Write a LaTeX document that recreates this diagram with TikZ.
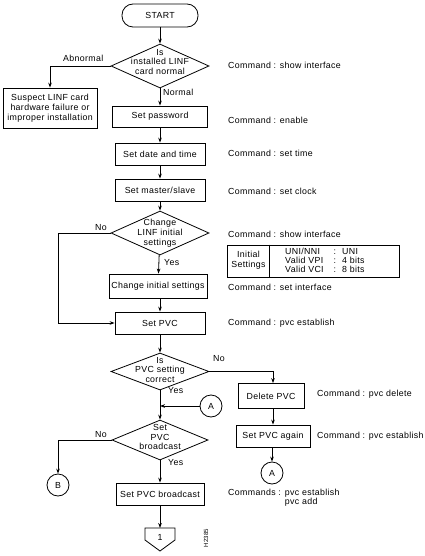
\documentclass[tikz,border=0pt]{standalone}
\usepackage{fontspec}
\setmainfont{Liberation Sans}[LetterSpace=4]
\usetikzlibrary{shapes.geometric,arrows.meta}
\begin{document}
\begin{tikzpicture}[x=1pt,y=-1pt,
  every node/.style={font=\fontsize{8.8}{9.8}\selectfont, inner sep=0pt},
  box/.style={draw, line width=0.8pt, minimum height=22pt, align=center},
  dia/.style={draw, diamond, line width=0.8pt},
  circ/.style={draw, circle, line width=0.8pt, minimum size=22pt},
  cmd/.style={anchor=west},
  lbl/.style={anchor=west},
  arr/.style={line width=0.8pt, -{Stealth[length=5pt,width=3.6pt]}},
  ln/.style={line width=0.8pt}]
\useasboundingbox (0,0) rectangle (424,556);
% start
\node[draw, line width=0.8pt, rounded corners=11pt, minimum width=76pt, minimum height=23pt] (start) at (160,15.5) {START};
% diamond 1
\node[dia, minimum width=98pt, minimum height=44pt] (d1) at (160,66) {};
\node[align=center] (d1t) at (160,62) {Is\\installed LINF\\card normal};
\node[box, minimum width=94pt, minimum height=40pt] (sus) at (50,108) {Suspect LINF card\\hardware failure or\\improper installation};
\node[box, minimum width=95pt, minimum height=21pt] (pw) at (160,116.5) {Set password};
\node[box, minimum width=90pt] (dt) at (160,154) {Set date and time};
\node[box, minimum width=90pt] (ms) at (160,190) {Set master/slave};
\node[dia, minimum width=98pt, minimum height=44pt] (d2) at (160,233) {};
\node[align=center] (d2t) at (160,233) {Change\\LINF initial\\settings};
\node[box, minimum width=98pt, minimum height=24pt] (ci) at (158,286) {Change initial settings};
\node[box, minimum width=90pt] (pvc) at (160,323) {Set PVC};
\node[dia, minimum width=98pt, minimum height=37pt] (d3) at (160,371.5) {};
\node[align=center] (d3t) at (160,370) {Is\\PVC setting\\correct};
\node[dia, minimum width=96pt, minimum height=40pt] (d4) at (160,440) {};
\node[align=center] (d4t) at (160,437) {Set\\PVC\\broadcast};
\node[box, minimum width=88pt] (bc) at (160,494) {Set PVC broadcast};
% off-page connector
\coordinate (o1) at (145,528);
\coordinate (o2) at (175,528);
\coordinate (o3) at (175,540);
\coordinate (o4) at (160,551);
\coordinate (o5) at (145,540);
\draw[ln] (o1) -- (o2) -- (o3) -- (o4) -- (o5) -- cycle;
\node (off) at (160,537) {1};
% right branch
\node[box, minimum width=66pt, minimum height=25pt] (del) at (271,396) {Delete PVC};
\node[box, minimum width=74pt] (again) at (273,436) {Set PVC again};
\node[circ] (A2) at (272,473) {A};
\node[circ] (A1) at (211,406) {A};
\node[circ] (B) at (58,485) {B};
\coordinate (j) at (160,406);
% connectors
\draw[arr] (start) -- (d1);
\draw[arr] (d1.west) -| (sus.north);
\draw[arr] (d1) -- (pw);
\draw[arr] (pw) -- (dt);
\draw[arr] (dt) -- (ms);
\draw[arr] (ms) -- (d2);
\draw[arr] (d2) -- (ci);
\draw[arr] (ci.south -| pvc.north) -- (pvc);
\draw[arr] (d2.west) -- (58,233) -- (58,323) -- (pvc.west);
\draw[arr] (pvc) -- (d3);
\draw[arr] (d3) -- (d4);
\draw[arr] (A1) -- (j);
\draw[arr] (d3.east) -| (del.north -| again.north);
\draw[arr] (del.south -| again.north) -- (again.north);
\draw[arr] (again.south -| A2.north) -- (A2);
\draw[arr] (d4.west) -| (B.north);
\draw[arr] (d4) -- (bc);
\draw[arr] (bc) -- (o4 |- o1);
% labels
\node[lbl] (lab1) at (63,58) {Abnormal};
\node[lbl] (lab2) at (163,92) {Normal};
\node[lbl] (lab3) at (95,228) {No};
\node[lbl] (lab4) at (164,263) {Yes};
\node[lbl] (lab5) at (213,359) {No};
\node[lbl] (lab6) at (168,391) {Yes};
\node[lbl] (lab7) at (95,435) {No};
\node[lbl] (lab8) at (168,463) {Yes};
% commands
\node[cmd] (c1) at (228,65) {Command : show interface};
\node[cmd] (c2) at (228,120) {Command : enable};
\node[cmd] (c3) at (228,153) {Command : set time};
\node[cmd] (c4) at (228,191) {Command : set clock};
\node[cmd] (c5) at (228,234) {Command : show interface};
\node[cmd] (c6) at (228,287) {Command : set interface};
\node[cmd] (c7) at (228,323) {Command : pvc establish};
\node[cmd] (c8) at (317,394) {Command : pvc delete};
\node[cmd] (c9) at (317,436) {Command : pvc establish};
\node[cmd] (c10) at (228,498) {\begin{tabular}{@{}l@{\hspace{4pt}}l@{}}Commands : & pvc establish\\ & pvc add\end{tabular}};
% table
\node[draw, line width=0.8pt, minimum width=172pt, minimum height=32pt] (tab) at (313,261) {};
\draw[ln] ([xshift=43pt]tab.north west) -- ([xshift=43pt]tab.south west);
\node[align=center] (tabl) at (248.5,260) {Initial\\Settings};
\node[anchor=west] (tabr) at (285,261.5) {\def\arraystretch{0.85}\begin{tabular}{@{}l@{\hspace{10pt}}l@{\hspace{6pt}}l@{}}UNI/NNI & : & UNI\\Valid VPI & : & 4 bits\\Valid VCI & : & 8 bits\end{tabular}};
% figure id
\node[rotate=90, font=\fontsize{6}{7}\selectfont] (id) at (206,538) {H2385};
\end{tikzpicture}
\end{document}
